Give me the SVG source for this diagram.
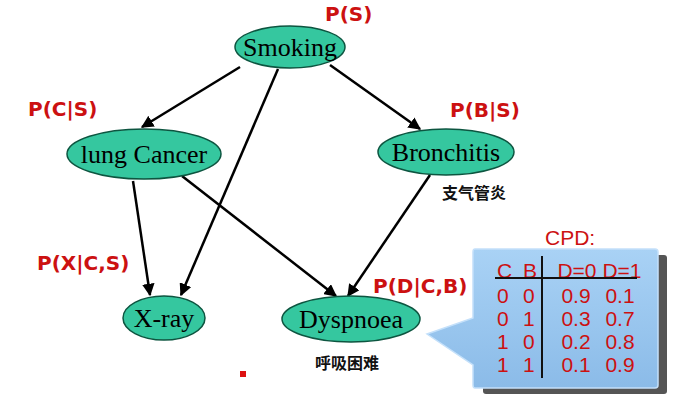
<svg xmlns="http://www.w3.org/2000/svg" width="678" height="403" viewBox="0 0 678 403">
<defs>
<marker id="ah" viewBox="0 0 10 10" refX="9" refY="5" markerWidth="5" markerHeight="5" orient="auto" markerUnits="strokeWidth">
<path d="M0,0 L10,5 L0,10 z" fill="#000"/>
</marker>
<linearGradient id="cg" x1="0" y1="0" x2="0" y2="1">
<stop offset="0" stop-color="#a9d2f5"/>
<stop offset="1" stop-color="#8bbbe8"/>
</linearGradient>
</defs>
<style>
.node ellipse{fill:#35c79f;stroke:#0d5540;stroke-width:1.5}
.nt{font-family:"Liberation Serif",serif;font-size:26px;fill:#000;text-anchor:middle}
.pl{font-family:"DejaVu Sans",sans-serif;font-weight:bold;font-size:20px;fill:#cc1111}
.cn{font-family:"Noto Sans CJK SC",sans-serif;font-weight:bold;font-size:16px;fill:#111;text-anchor:middle}
.edge{stroke:#000;stroke-width:2.5;fill:none;marker-end:url(#ah)}
.tb{font-family:"Liberation Sans",sans-serif;font-size:21px;fill:#cc1111}
.c{text-anchor:middle}
</style>
<rect width="678" height="403" fill="#fff"/>
<g id="connectors">
<line class="edge" x1="240" y1="67" x2="142" y2="127"/>
<line class="edge" x1="278" y1="69" x2="181" y2="295"/>
<line class="edge" x1="330" y1="65" x2="420" y2="129"/>
<line class="edge" x1="133" y1="181" x2="150" y2="295"/>
<line class="edge" x1="182" y1="176" x2="336" y2="296"/>
<line class="edge" x1="430" y1="175" x2="348" y2="296"/>
</g>
<g id="smoking" class="node"><ellipse cx="290" cy="47" rx="55" ry="21"/><text class="nt" x="290" y="56">Smoking</text></g>
<g id="lungcancer" class="node"><ellipse cx="144" cy="154" rx="77" ry="25"/><text class="nt" x="144" y="163">lung Cancer</text></g>
<g id="bronchitis" class="node"><ellipse cx="446" cy="152" rx="68" ry="23"/><text class="nt" x="446" y="161">Bronchitis</text></g>
<g id="xray" class="node"><ellipse cx="164" cy="318" rx="41" ry="22"/><text class="nt" x="164" y="327">X-ray</text></g>
<g id="dyspnoea" class="node"><ellipse cx="351" cy="319" rx="69" ry="23"/><text class="nt" x="351" y="328">Dyspnoea</text></g>
<g id="labels">
<text class="pl" x="325" y="21">P(S)</text>
<text class="pl" x="28" y="116">P(C|S)</text>
<text class="pl" x="450" y="117">P(B|S)</text>
<text class="pl" x="37" y="270">P(X|C,S)</text>
<text class="pl" x="373" y="293">P(D|C,B)</text>
<text class="cn" x="474" y="199">支气管炎</text>
<text class="cn" x="347" y="369" font-size="17">呼吸困难</text>
<rect x="240" y="371" width="6" height="6" fill="#dd1111"/>
</g>
<g id="cpd">
<rect x="483" y="255" width="184" height="139" fill="#555" rx="3"/>
<path d="M475,249 L655,249 Q658,249 658,252 L658,385 Q658,388 655,388 L475,388 Q473,388 473,385 L473,365 L427,334 L473,318 L473,252 Q473,249 475,249 z" fill="url(#cg)" stroke="#c4e0fa" stroke-width="1.5"/>
<text class="tb" x="545" y="245">CPD:</text>
<text class="tb" x="497" y="278">C</text>
<text class="tb" x="523" y="278">B</text>
<text class="tb c" x="577" y="278">D=0</text>
<text class="tb c" x="622" y="278">D=1</text>
<line x1="495" y1="278" x2="637" y2="278" stroke="#111" stroke-width="2"/>
<line x1="542" y1="256" x2="542" y2="378" stroke="#111" stroke-width="2"/>
<g class="tb">
<text x="497" y="303">0</text><text x="523" y="303">0</text><text class="c" x="576" y="303">0.9</text><text class="c" x="620" y="303">0.1</text>
<text x="497" y="326">0</text><text x="523" y="326">1</text><text class="c" x="576" y="326">0.3</text><text class="c" x="620" y="326">0.7</text>
<text x="497" y="349">1</text><text x="523" y="349">0</text><text class="c" x="576" y="349">0.2</text><text class="c" x="620" y="349">0.8</text>
<text x="497" y="372">1</text><text x="523" y="372">1</text><text class="c" x="576" y="372">0.1</text><text class="c" x="620" y="372">0.9</text>
</g>
</g>
</svg>
